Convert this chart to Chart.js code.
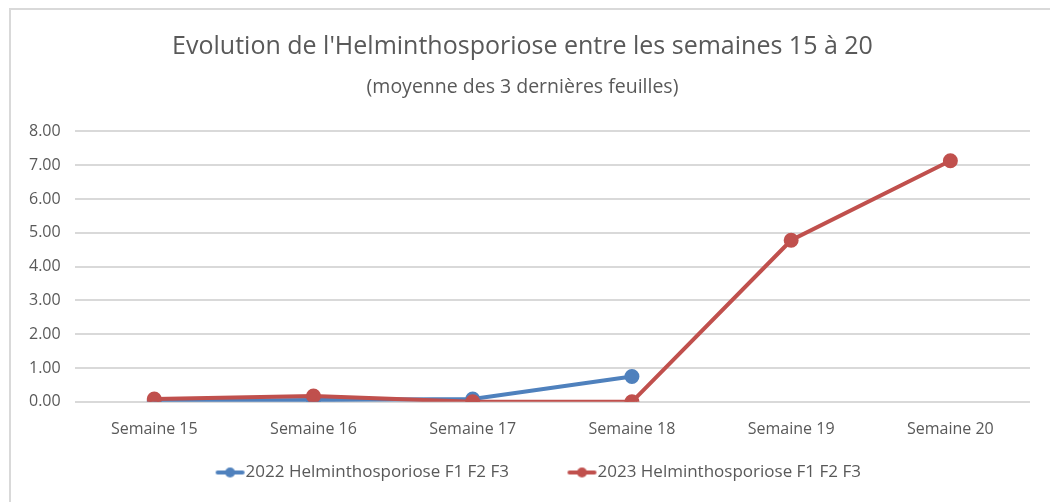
<!DOCTYPE html>
<html>
<head>
<meta charset="utf-8">
<script src="https://cdn.jsdelivr.net/npm/chart.js@4"></script>
<style>
  html, body { margin: 0; padding: 0; background: #fff; }
  #frame {
    position: absolute; left: 9px; top: 8px; width: 1100px; height: 600px;
    border-top: 2px solid #d9d9d9; border-left: 2px solid #d9d9d9;
  }
  #wrap { position: absolute; left: 0; top: 0; width: 1050px; height: 502px; }
</style>
</head>
<body>
<div id="frame"></div>
<div id="wrap"><canvas id="chart"></canvas></div>
<script>
/* Helminthosporiose 2022 vs 2023 — line chart */
const weeks = ["Semaine 15", "Semaine 16", "Semaine 17", "Semaine 18", "Semaine 19", "Semaine 20"];
const values2022 = [0.02, 0.05, 0.08, 0.75, null, null];
const values2023 = [0.08, 0.17, 0.0, 0.0, 4.78, 7.13];
const label2022 = "2022 Helminthosporiose F1 F2 F3";
const label2023 = "2023 Helminthosporiose F1 F2 F3";

const color = {
  blue: "#4f81bd",
  red: "#c0504d",
  text: "#595959",
  grid: "#d9d9d9",
};
const font = '"Open Sans", Calibri, sans-serif';

// legend spacing: marker sits at the right end of a wider, mostly blank image
const legendFont = 17;
const markerBox = 65;
function legendMarker(stroke) {
  const c = document.createElement("canvas");
  c.width = markerBox + legendFont;
  c.height = 12;
  const ctx = c.getContext("2d");
  const x1 = c.width - 30, x2 = c.width - 1;
  ctx.strokeStyle = stroke;
  ctx.lineWidth = 4;
  ctx.lineCap = "round";
  ctx.beginPath(); ctx.moveTo(x1 + 2, 6); ctx.lineTo(x2 - 2, 6); ctx.stroke();
  ctx.fillStyle = stroke;
  ctx.beginPath(); ctx.arc((x1 + x2) / 2, 6, 5, 0, Math.PI * 2); ctx.fill();
  return c;
}

// nudge the legend a little to the left, as in the source chart
const legendShift = {
  id: "legendShift",
  afterLayout(chart) {
    if (chart.legend) {
      chart.legend.left -= 6;
      chart.legend.right -= 6;
    }
  },
};

new Chart(document.getElementById("chart"), {
  type: "line",
  data: {
    labels: weeks,
    datasets: [
      {
        label: label2022,
        data: values2022,
        borderColor: color.blue,
        backgroundColor: color.blue,
        borderWidth: 4,
        pointRadius: 5.5,
        pointHoverRadius: 5.5,
        tension: 0,
        order: 2,
      },
      {
        label: label2023,
        data: values2023,
        borderColor: color.red,
        backgroundColor: color.red,
        borderWidth: 4,
        pointRadius: 5.5,
        pointHoverRadius: 5.5,
        tension: 0,
        order: 1,
      },
    ],
  },
  plugins: [legendShift],
  options: {
    responsive: true,
    maintainAspectRatio: false,
    animation: false,
    layout: { padding: { left: 15, right: 20, top: 32, bottom: 11 } },
    plugins: {
      title: {
        display: true,
        text: "Evolution de l'Helminthosporiose entre les semaines 15 à 20",
        color: color.text,
        font: { family: font, size: 25, weight: "normal" },
        padding: { top: 0, bottom: 14 },
      },
      subtitle: {
        display: true,
        text: "(moyenne des 3 dernières feuilles)",
        color: color.text,
        font: { family: font, size: 19.5, weight: "normal" },
        padding: { top: 0, bottom: 32 },
      },
      legend: {
        position: "bottom",
        labels: {
          color: color.text,
          font: { family: font, size: legendFont },
          usePointStyle: true,
          pointStyleWidth: markerBox,
          padding: 15,
          generateLabels(chart) {
            return chart.data.datasets.map((ds, i) => ({
              text: ds.label,
              fontColor: color.text,
              pointStyle: legendMarker(ds.borderColor),
              strokeStyle: ds.borderColor,
              fillStyle: ds.borderColor,
              lineWidth: 0,
              datasetIndex: i,
              hidden: false,
            }));
          },
        },
      },
      tooltip: { enabled: false },
    },
    scales: {
      x: {
        offset: true,
        grid: { display: false },
        border: { display: false },
        ticks: { color: color.text, font: { family: font, size: 16 }, padding: 10 },
      },
      y: {
        min: 0,
        max: 8,
        grid: { color: color.grid, lineWidth: 2, drawTicks: false },
        border: { display: false },
        ticks: {
          stepSize: 1,
          color: color.text,
          font: { family: font, size: 16 },
          padding: 14,
          callback: (v) => v.toFixed(2),
        },
      },
    },
  },
});
</script>
</body>
</html>
